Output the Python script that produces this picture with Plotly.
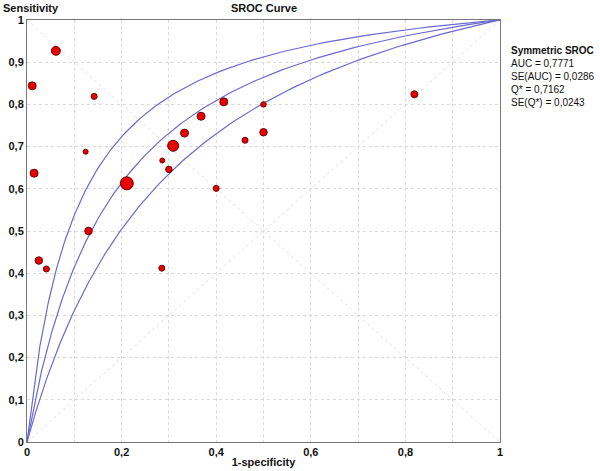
import numpy as np
import plotly.graph_objects as go

# Study estimates (1-specificity, sensitivity) and relative study weight
fpr = [0.061, 0.011, 0.142, 0.124, 0.309, 0.333, 0.368, 0.416, 0.500, 0.461, 0.500,
       0.819, 0.015, 0.286, 0.300, 0.211, 0.400, 0.130, 0.025, 0.041, 0.285]
sens = [0.927, 0.844, 0.819, 0.688, 0.702, 0.732, 0.772, 0.806, 0.800, 0.715, 0.734,
        0.824, 0.637, 0.667, 0.646, 0.613, 0.601, 0.500, 0.430, 0.410, 0.412]
weight = [9, 8, 6, 5, 11, 8, 8, 8, 5.5, 6, 7.5,
          7, 8, 5, 6.5, 13, 6, 7.5, 7.5, 6, 6]

# Symmetric SROC summary
auc = 0.7771
se_auc = 0.0286
q_star = 0.7162
se_q = 0.0243


def sroc(q, f):
    # symmetric SROC: logit(TPR) - logit(FPR) = a, with Q* = 1/(1+exp(-a/2))
    a = 2 * np.log(q / (1 - q))
    return 1 / (1 + np.exp(-a) * (1 - f) / f)


def comma(v):
    return f'{v:.4f}'.replace('.', ',')


f = np.concatenate([[0], np.geomspace(1e-5, 1, 500)])

fig = go.Figure()

# reference diagonals
for ys in ([0, 1], [1, 0]):
    fig.add_trace(go.Scatter(x=[0, 1], y=ys, mode='lines', hoverinfo='skip',
                             line=dict(color='#e2e2e2', width=1, dash='dot'), showlegend=False))

# summary curve with 95% band
for q in (q_star + 1.96 * se_q, q_star, q_star - 1.96 * se_q):
    tpr = sroc(q, f)
    tpr[0] = 0
    fig.add_trace(go.Scatter(x=f, y=tpr, mode='lines', showlegend=False,
                             line=dict(color='#6a6acf', width=1.2)))

fig.add_trace(go.Scatter(
    x=fpr, y=sens, mode='markers', showlegend=False,
    marker=dict(size=weight, color='#e80000', opacity=1,
                line=dict(color='#6e0000', width=1))
))

bold = dict(family='Arial, Liberation Sans', size=11, color='#111', weight='bold')
grid = '#dadada'

fig.update_layout(
    width=600, height=471,
    margin=dict(l=27, r=100, t=20, b=29),
    plot_bgcolor='white', paper_bgcolor='white',
    separators=',.',
    font=dict(family='Arial, Liberation Sans', size=11, color='#111'),
    xaxis=dict(range=[0, 1], dtick=0.2, showgrid=True, gridcolor=grid, griddash='dot',
               minor=dict(dtick=0.1, showgrid=True, gridcolor=grid, griddash='dot'),
               showline=True, linecolor='#777', mirror=True, zeroline=False,
               automargin=False, ticklabelstandoff=0,
               tickfont=bold, title=dict(text='1-specificity', font=bold, standoff=1)),
    yaxis=dict(range=[0, 1], dtick=0.1, showgrid=True, gridcolor=grid, griddash='dot',
               showline=True, linecolor='#777', mirror=True, zeroline=False,
               automargin=False, tickfont=bold),
    annotations=[
        dict(text='Sensitivity', xref='paper', yref='paper', x=-0.054, y=1.0, yshift=4,
             xanchor='left', yanchor='bottom', showarrow=False, font=bold),
        dict(text='SROC Curve', xref='paper', yref='paper', x=0.5, y=1.0, yshift=4,
             xanchor='center', yanchor='bottom', showarrow=False, font=bold),
        dict(text='<b>Symmetric SROC</b><br>AUC = %s<br>SE(AUC) = %s<br>Q* = %s<br>SE(Q*) = %s'
             % (comma(auc), comma(se_auc), comma(q_star), comma(se_q)),
             xref='paper', yref='paper', x=1.02, y=0.945, xanchor='left', yanchor='top',
             align='left', showarrow=False, font=dict(size=10, color='#111')),
    ],
)

fig.write_html("out.html", config={'displayModeBar': False},
               post_script="document.body.style.margin='0';")
